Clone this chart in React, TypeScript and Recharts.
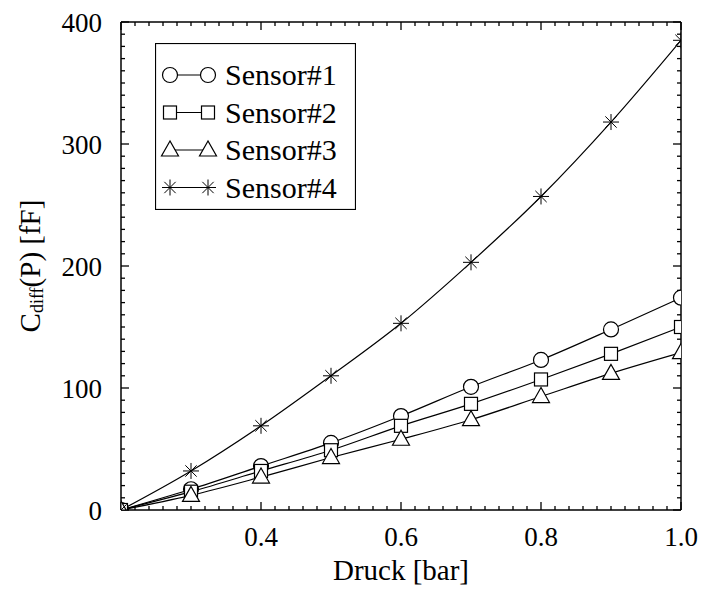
import { LineChart, Line, XAxis, YAxis, Legend, ReferenceLine } from 'recharts';

// Druck in bar, Kapazitaetsaenderung in fF
const pressure = [0.2, 0.3, 0.4, 0.5, 0.6, 0.7, 0.8, 0.9, 1.0];
const sensor1 = [0, 17, 36, 55, 77, 101, 123, 148, 174];
const sensor2 = [0, 15, 32, 49, 69, 87, 107, 128, 150];
const sensor3 = [0, 12, 27, 43, 58, 74, 93, 112, 129];
const sensor4 = [0, 32, 69, 110, 153, 203, 257, 318, 385];

const seriesNames = ['Sensor#1', 'Sensor#2', 'Sensor#3', 'Sensor#4'];
const seriesShapes = ['circle', 'square', 'triangle', 'star'];

const xMajorTicks = [0.4, 0.6, 0.8, 1.0];
const yMajorTicks = [0, 100, 200, 300, 400];

// minor ticks every 0.02 bar / 10 fF
const xTicks: number[] = [];
for (let i = 0; i <= 40; i++) xTicks.push(Math.round((0.2 + i * 0.02) * 1000) / 1000);
const yTicks: number[] = [];
for (let i = 0; i <= 40; i++) yTicks.push(i * 10);

const data = pressure.map((p, i) => ({
  p,
  s1: sensor1[i],
  s2: sensor2[i],
  s3: sensor3[i],
  s4: sensor4[i],
}));

const FONT = '"Liberation Serif", "DejaVu Serif", serif';
const INK = '#000';

const near = (a: number, b: number) => Math.abs(a - b) < 1e-6;
const isMajorX = (v: number) => near(v * 5, Math.round(v * 5));
const isMajorY = (v: number) => v % 100 === 0;

function Marker({ shape, cx, cy }: { shape: string; cx: number; cy: number }) {
  const st = { stroke: INK, strokeWidth: 1.2, fill: '#fff' };
  if (shape === 'circle') return <circle cx={cx} cy={cy} r={7.5} {...st} />;
  if (shape === 'square') return <rect x={cx - 6.5} y={cy - 6.5} width={13} height={13} {...st} />;
  if (shape === 'triangle')
    return <polygon points={`${cx},${cy - 9} ${cx - 8.5},${cy + 6} ${cx + 8.5},${cy + 6}`} {...st} />;
  const r = 8;
  const spokes = [0, 45, 90, 135].map((a) => {
    const rad = (a * Math.PI) / 180;
    const dx = Math.cos(rad) * r;
    const dy = Math.sin(rad) * r;
    return <line key={a} x1={cx - dx} y1={cy - dy} x2={cx + dx} y2={cy + dy} stroke={INK} strokeWidth={1} />;
  });
  return <g>{spokes}</g>;
}

// inward ticks on both ends of a full-height reference line
const xTickShape = (len: number) => (p: any) => {
  const top = Math.min(p.y1, p.y2);
  const bot = Math.max(p.y1, p.y2);
  return (
    <g>
      <line x1={p.x1} y1={top} x2={p.x1} y2={top + len} stroke={INK} strokeWidth={1.3} />
      <line x1={p.x1} y1={bot} x2={p.x1} y2={bot - len} stroke={INK} strokeWidth={1.3} />
    </g>
  );
};

const yTickShape = (len: number) => (p: any) => {
  const left = Math.min(p.x1, p.x2);
  const right = Math.max(p.x1, p.x2);
  return (
    <g>
      <line x1={left} y1={p.y1} x2={left + len} y2={p.y1} stroke={INK} strokeWidth={1.3} />
      <line x1={right} y1={p.y1} x2={right - len} y2={p.y1} stroke={INK} strokeWidth={1.3} />
    </g>
  );
};

function YLabel({ viewBox }: any) {
  const cx = viewBox.x + 30;
  const cy = viewBox.y + viewBox.height / 2;
  return (
    <text
      x={cx}
      y={cy}
      transform={`rotate(-90, ${cx}, ${cy})`}
      textAnchor="middle"
      dominantBaseline="central"
      style={{ fontFamily: FONT, fontSize: 29 }}
      fill={INK}
    >
      <tspan>C</tspan>
      <tspan style={{ fontSize: 18 }} dy={7}>diff</tspan>
      <tspan dy={-7}>(P) [fF]</tspan>
    </text>
  );
}

function LegendBox() {
  return (
    <svg width={201} height={167} style={{ display: 'block', fontFamily: FONT }}>
      <rect x={0.5} y={0.5} width={200} height={166} fill="#fff" stroke={INK} strokeWidth={1.2} />
      {seriesNames.map((name, i) => {
        const cy = 32 + i * 37.5;
        return (
          <g key={name}>
            <line x1={15} y1={cy} x2={53} y2={cy} stroke={INK} strokeWidth={1.2} />
            <Marker shape={seriesShapes[i]} cx={15} cy={cy} />
            <Marker shape={seriesShapes[i]} cx={53} cy={cy} />
            <text x={70} y={cy + 10} style={{ fontFamily: FONT, fontSize: 30 }} fill={INK}>
              {name}
            </text>
          </g>
        );
      })}
    </svg>
  );
}

const keys = ['s1', 's2', 's3', 's4'];
const tickFont = { fill: INK, fontSize: 27, style: { fontFamily: FONT } };

export default function App() {
  return (
    <div style={{ position: 'absolute', left: 0, top: 0, background: '#fff', fontFamily: FONT }}>
      <LineChart
        width={702}
        height={590}
        data={data}
        margin={{ top: 22, right: 21, bottom: 0, left: 0 }}
        style={{ fontFamily: FONT }}
      >
        <XAxis
          xAxisId="x"
          type="number"
          dataKey="p"
          domain={[0.2, 1.0]}
          allowDataOverflow
          ticks={xMajorTicks}
          interval={0}
          height={80}
          tickSize={0}
          tickMargin={17}
          tickLine={false}
          tickFormatter={(v: number) => v.toFixed(1)}
          tick={tickFont}
          axisLine={{ stroke: INK, strokeWidth: 1.5 }}
          label={{
            value: 'Druck [bar]',
            position: 'insideBottom',
            offset: 10,
            fontSize: 29,
            fill: INK,
            style: { fontFamily: FONT },
          }}
        />
        <YAxis
          yAxisId="y"
          type="number"
          domain={[0, 400]}
          allowDataOverflow
          ticks={yMajorTicks}
          interval={0}
          width={121}
          tickSize={0}
          tickMargin={19}
          tickLine={false}
          tick={tickFont}
          axisLine={{ stroke: INK, strokeWidth: 1.5 }}
          label={{ content: YLabel }}
        />
        <ReferenceLine xAxisId="x" yAxisId="y" y={400} stroke={INK} strokeWidth={1.5} />
        <ReferenceLine xAxisId="x" yAxisId="y" x={1.0} stroke={INK} strokeWidth={1.5} />
        {xTicks.map((v) => (
          <ReferenceLine
            key={`xt-${v}`}
            xAxisId="x"
            yAxisId="y"
            x={v}
            stroke={INK}
            shape={xTickShape(isMajorX(v) ? 8 : 4)}
          />
        ))}
        {yTicks.map((v) => (
          <ReferenceLine
            key={`yt-${v}`}
            xAxisId="x"
            yAxisId="y"
            y={v}
            stroke={INK}
            shape={yTickShape(isMajorY(v) ? 8 : 4)}
          />
        ))}
        <Legend
          layout="vertical"
          align="center"
          verticalAlign="middle"
          content={() => <LegendBox />}
          wrapperStyle={{ left: 155, top: 43, width: 201, height: 167 }}
        />
        {keys.map((k, i) => (
          <Line
            key={k}
            xAxisId="x"
            yAxisId="y"
            dataKey={k}
            name={seriesNames[i]}
            type="monotone"
            stroke={INK}
            strokeWidth={1.2}
            isAnimationActive={false}
            dot={(p: any) => <Marker key={`${k}-${p.index}`} shape={seriesShapes[i]} cx={p.cx} cy={p.cy} />}
            activeDot={false}
          />
        ))}
      </LineChart>
    </div>
  );
}
